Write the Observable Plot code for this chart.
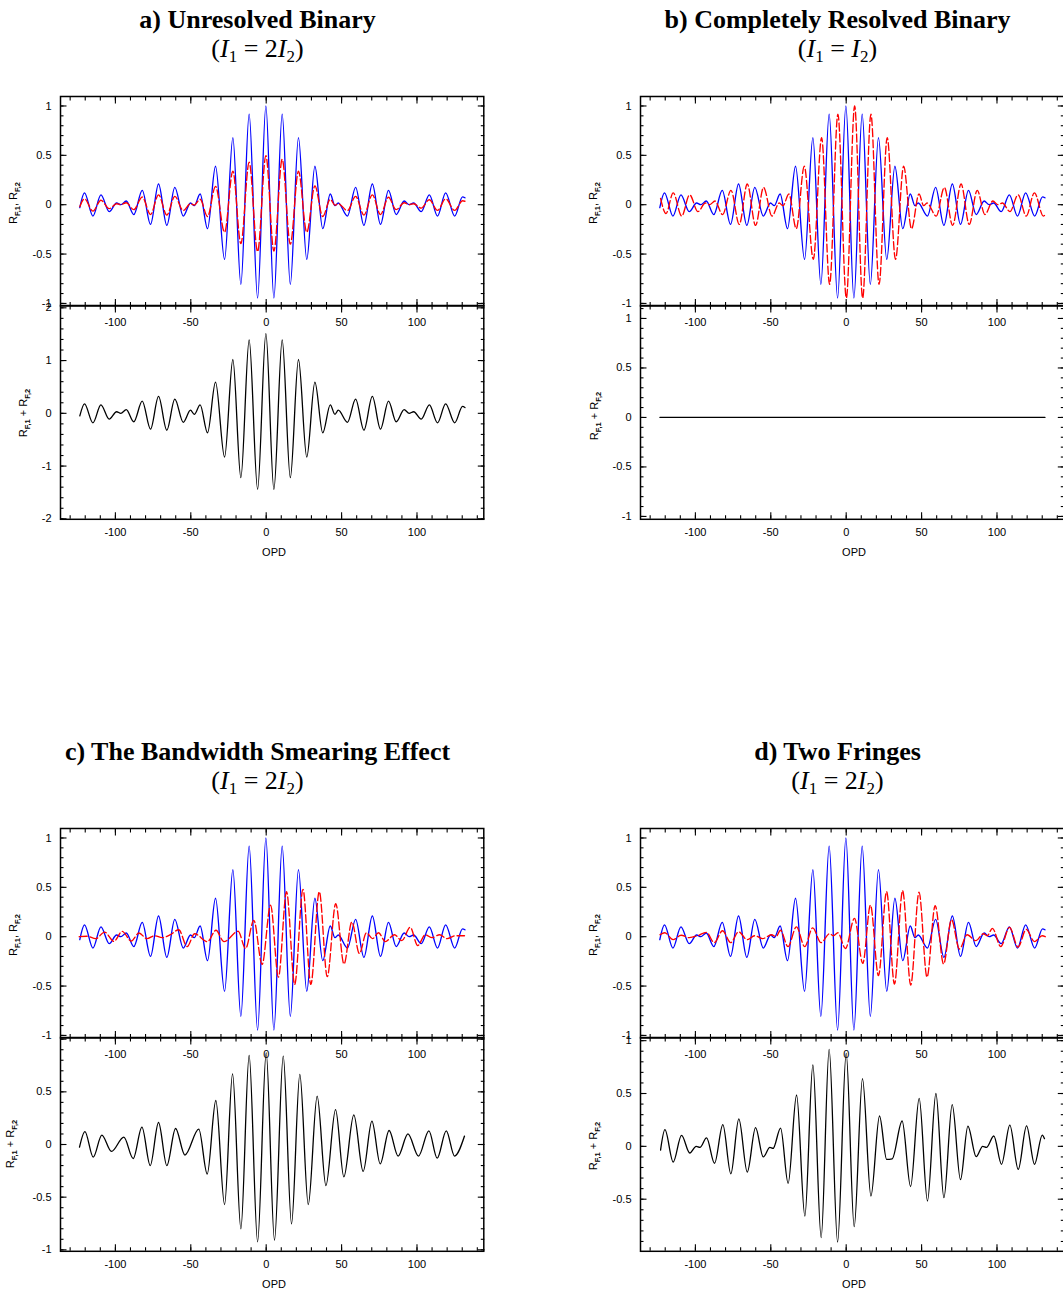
<!DOCTYPE html>
<html><head><meta charset="utf-8">
<script src="https://cdn.jsdelivr.net/npm/d3@7"></script>
<script src="https://cdn.jsdelivr.net/npm/@observablehq/plot@0.6"></script>
<style>
html,body{margin:0;padding:0;background:#fff;}
#page{position:relative;width:1063px;height:1290px;overflow:hidden;background:#fff;}
#page svg{position:absolute;}
</style></head><body><div id="page"></div>
<script>
// ---------- data (OPD, value): fringe extrema ----------
const blueR1 = [[-123.6,-0.03],[-120.5,0.12],[-114.9,-0.115],[-109.6,0.10],[-104.1,-0.07],[-99.2,0.017],[-96.4,0.0],[-92.8,0.037],[-87.8,-0.10],[-82.2,0.145],[-76.7,-0.20],[-71.4,0.21],[-65.9,-0.21],[-60.6,0.175],[-55.0,-0.115],[-50.2,0.017],[-47.7,-0.01],[-43.8,0.108],[-38.9,-0.243],[-33.6,0.389],[-27.6,-0.554],[-22.1,0.679],[-16.8,-0.807],[-11.3,0.916],[-5.7,-0.946],[-0.2,1.0],[5.1,-0.946],[10.6,0.916],[16.0,-0.807],[21.4,0.679],[26.9,-0.554],[32.3,0.389],[37.5,-0.243],[42.5,0.108],[45.6,-0.01],[47.8,0.017],[53.9,-0.115],[59.3,0.175],[64.8,-0.21],[70.4,0.21],[75.8,-0.20],[81.1,0.145],[86.2,-0.10],[91.5,0.037],[94.8,0.0],[97.8,0.017],[102.8,-0.07],[108.2,0.10],[113.6,-0.115],[119.0,0.12],[125.0,-0.115],[130.2,0.08],[131.8,0.07]];

const redA = [[-123.6,-0.02],[-120.5,0.06],[-114.9,-0.065],[-109.6,0.045],[-104.1,-0.04],[-99.2,0.01],[-96.4,0.0],[-92.8,0.02],[-87.8,-0.05],[-82.2,0.078],[-76.7,-0.10],[-71.4,0.10],[-65.9,-0.105],[-60.6,0.085],[-55.0,-0.06],[-50.2,0.01],[-47.7,-0.005],[-43.8,0.055],[-38.9,-0.12],[-33.6,0.186],[-27.6,-0.28],[-22.1,0.34],[-16.8,-0.395],[-11.3,0.43],[-5.7,-0.476],[-0.2,0.497],[5.1,-0.47],[10.6,0.46],[16.0,-0.40],[21.4,0.34],[26.9,-0.28],[32.3,0.19],[37.5,-0.12],[42.5,0.055],[45.6,-0.005],[47.8,0.01],[53.9,-0.06],[59.3,0.085],[64.8,-0.105],[70.4,0.10],[75.8,-0.10],[81.1,0.075],[86.2,-0.05],[91.5,0.02],[94.8,0.0],[97.8,0.01],[102.8,-0.035],[108.2,0.05],[113.6,-0.058],[119.0,0.06],[125.0,-0.058],[130.2,0.04],[131.8,0.035]];

const sumA = [[-123.6,-0.05],[-120.5,0.18],[-114.9,-0.18],[-109.6,0.16],[-104.1,-0.11],[-99.2,0.03],[-96.4,0.0],[-92.8,0.07],[-87.8,-0.16],[-82.2,0.23],[-76.7,-0.30],[-71.4,0.32],[-65.9,-0.32],[-60.6,0.27],[-55.0,-0.17],[-50.2,0.06],[-47.7,-0.02],[-43.8,0.16],[-38.9,-0.37],[-33.6,0.59],[-27.6,-0.83],[-22.1,1.02],[-16.8,-1.22],[-11.3,1.39],[-5.7,-1.44],[-0.2,1.51],[5.1,-1.44],[10.6,1.39],[16.0,-1.22],[21.4,1.02],[26.9,-0.83],[32.3,0.59],[37.5,-0.37],[42.5,0.16],[45.6,-0.02],[47.8,0.06],[53.9,-0.17],[59.3,0.27],[64.8,-0.32],[70.4,0.32],[75.8,-0.30],[81.1,0.23],[86.2,-0.16],[91.5,0.07],[94.8,0.0],[97.8,0.03],[102.8,-0.11],[108.2,0.16],[113.6,-0.18],[119.0,0.18],[125.0,-0.18],[130.2,0.13],[131.8,0.11]];

const redB = [[-123.1,0.064],[-119.5,-0.09],[-114.7,0.12],[-109.1,-0.115],[-103.8,0.10],[-98.3,-0.07],[-93.4,0.017],[-90.6,0.0],[-87.0,0.037],[-82.0,-0.10],[-76.4,0.145],[-70.9,-0.20],[-65.6,0.21],[-60.1,-0.21],[-54.8,0.175],[-49.2,-0.115],[-44.4,0.017],[-41.9,-0.01],[-38.0,0.108],[-33.1,-0.243],[-27.8,0.389],[-21.8,-0.554],[-16.3,0.679],[-11.0,-0.807],[-5.5,0.916],[0.1,-0.946],[5.6,1.0],[10.9,-0.946],[16.4,0.916],[21.8,-0.807],[27.2,0.679],[32.7,-0.554],[38.1,0.389],[43.3,-0.243],[48.3,0.108],[51.4,-0.01],[53.6,0.017],[59.7,-0.115],[65.1,0.175],[70.6,-0.21],[76.2,0.21],[81.6,-0.20],[86.9,0.145],[92.0,-0.10],[97.3,0.037],[100.6,0.0],[103.6,0.017],[108.6,-0.07],[114.0,0.10],[119.4,-0.115],[124.8,0.12],[130.8,-0.115],[131.5,-0.11]];

const sumB = [[-123.5,0],[131.8,0]];

const redC = [[-124,0.0],[-119,0.005],[-113,-0.02],[-107.2,0.047],[-101,-0.047],[-95.5,0.054],[-89.5,-0.044],[-84.4,0.037],[-79,-0.02],[-74,0.01],[-69,-0.01],[-63.5,0.02],[-58,0.07],[-52.4,-0.1],[-47.5,0.03],[-39,-0.05],[-33.3,0.065],[-28,-0.05],[-18.6,0.055],[-13.7,-0.12],[-8.2,0.165],[-2.7,-0.28],[2.9,0.32],[8.1,-0.41],[13.5,0.455],[18.9,-0.483],[24.4,0.48],[29.6,-0.483],[35.2,0.456],[40.5,-0.405],[46.1,0.334],[51.6,-0.277],[56.8,0.15],[61.8,-0.17],[66.5,0.04],[70.5,-0.02],[74.5,0.04],[79,-0.05],[85,0.02],[90,-0.04],[95.5,0.095],[100.5,-0.09],[105.5,0.02],[110,-0.01],[115,0.02],[120,-0.02],[125.5,0.01],[131.5,0.01]];

const sumC = [[-123.8,-0.025],[-120.2,0.123],[-114.7,-0.12],[-109,0.089],[-102.6,-0.066],[-94.4,0.07],[-88.2,-0.133],[-82.4,0.165],[-76.9,-0.2],[-71.4,0.209],[-65.9,-0.2],[-60.1,0.152],[-53.9,-0.10],[-44.7,0.146],[-39.1,-0.28],[-33.4,0.418],[-27.6,-0.57],[-22.3,0.67],[-16.8,-0.80],[-11.3,0.845],[-5.7,-0.924],[0,0.87],[5.5,-0.908],[11.3,0.839],[16.8,-0.753],[22.3,0.665],[27.9,-0.57],[33.8,0.459],[39.6,-0.39],[46.0,0.332],[51.5,-0.307],[58.1,0.282],[64.3,-0.256],[70.1,0.222],[75.6,-0.184],[81.5,0.133],[87.5,-0.11],[94,0.10],[101,-0.11],[107.9,0.13],[113.4,-0.13],[119.4,0.13],[124.9,-0.11],[131.5,0.08]];

const redD = [[-123.5,0.02],[-120.3,0.04],[-114.8,-0.03],[-109.5,0.015],[-104,-0.01],[-98.5,0.01],[-92.7,0.044],[-87.5,-0.06],[-82,0.06],[-76.6,-0.06],[-71.3,0.05],[-65.8,-0.03],[-60.5,0.01],[-55.5,-0.02],[-49.5,0.02],[-46.5,0.0],[-43.6,0.065],[-38.6,-0.1],[-33,0.1],[-27.5,-0.1],[-22.2,0.09],[-16.7,-0.06],[-11,0.03],[-8.5,0.01],[-5.5,0.04],[-0.5,-0.12],[5.5,0.186],[11,-0.27],[16.1,0.32],[21.4,-0.395],[26.8,0.456],[32,-0.48],[37.4,0.466],[42.8,-0.49],[48.3,0.45],[53.6,-0.41],[59,0.314],[64.6,-0.277],[69.8,0.172],[75.1,-0.125],[80.2,0.02],[86,-0.04],[91,0.03],[93.5,0.01],[97,0.085],[102.5,-0.1],[108.3,0.095],[114,-0.105],[119.4,0.075],[124.8,-0.05],[130,0.01],[132,0.0]];

const sumD = [[-123.1,-0.035],[-120.2,0.158],[-114.7,-0.148],[-109.2,0.104],[-103.7,-0.063],[-99.5,0.0],[-97,-0.01],[-92.6,0.08],[-87.3,-0.16],[-81.8,0.205],[-76.5,-0.26],[-71.2,0.26],[-65.6,-0.243],[-60.1,0.177],[-55.0,-0.10],[-50.6,-0.01],[-48.5,-0.02],[-43.5,0.173],[-38.5,-0.35],[-32.9,0.486],[-27.4,-0.66],[-22.1,0.77],[-16.6,-0.864],[-11.3,0.918],[-5.7,-0.905],[0,0.88],[5.3,-0.76],[10.8,0.64],[16.4,-0.47],[22.1,0.287],[26.8,-0.123],[30.5,-0.118],[37.1,0.24],[42.7,-0.38],[48.4,0.454],[53.9,-0.517],[59.5,0.5],[64.8,-0.486],[70.3,0.394],[75.8,-0.315],[80.7,0.192],[86.2,-0.098],[90.5,0.0],[93,-0.01],[97.9,0.098],[103,-0.17],[108.5,0.2],[114.1,-0.218],[119.6,0.193],[124.9,-0.17],[130,0.107],[131.5,0.073]];

// ---------- texts and ticks ----------
const titles = ["a) Unresolved Binary", "b) Completely Resolved Binary", "c) The Bandwidth Smearing Effect", "d) Two Fringes"];
const ratioFactor = ["2", "", "2", "2"];   // (I1 = [factor] I2)
const opdTickLabels = [-100, -50, 0, 50, 100];
const topYLabels = [1, 0.5, 0, -0.5, -1];
const bottomYLabels = [[2, 1, 0, -1, -2], [1, 0.5, 0, -0.5, -1], [0.5, 0, -0.5, -1], [1, 0.5, 0, -0.5]];
const xLabelText = "OPD";

// ---------- layout ----------
const page = document.getElementById("page");
const X0 = [0, 580], Y0 = [0, 732];
const FRAME_L = 60, FRAME_W = 423.3;
const xDomain = [-136.4, 144.3];
const xMinor = d3.range(-130, 141, 10);
const xMajor = [-100, -50, 0, 50, 100];

function sub({left, top, h, yDomain, yMajor, yMinor, yLabels, xPad, lines}) {
  const ml = 60, mr = 40, mt = 12, mb = 48;
  const marks = [];
  for (const l of lines) {
    marks.push(Plot.line(l.data, {x: d => d[0], y: d => d[1], stroke: l.color, strokeWidth: l.w || 1.35,
      strokeDasharray: l.dash, curve: "monotone-x"}));
  }
  marks.push(Plot.frame({stroke: "#000", strokeWidth: 1.5}));
  for (const a of ["top", "bottom"]) {
    marks.push(Plot.axisX(xMinor, {anchor: a, tickSize: -3.5, tickFormat: () => "", label: null, strokeWidth: 1.1}));
    marks.push(Plot.axisX(xMajor, {anchor: a, tickSize: -6.5, tickFormat: () => "", label: null, strokeWidth: 1.1}));
  }
  for (const a of ["left", "right"]) {
    marks.push(Plot.axisY(yMinor, {anchor: a, tickSize: -3.5, tickFormat: () => "", label: null, strokeWidth: 1.1}));
    marks.push(Plot.axisY(yMajor, {anchor: a, tickSize: -6.5, tickFormat: () => "", label: null, strokeWidth: 1.1}));
  }
  marks.push(Plot.axisX(opdTickLabels, {anchor: "bottom", tickSize: 0, tickPadding: xPad, tickFormat: d => String(d), label: null, fontSize: 11}));
  marks.push(Plot.axisY(yLabels, {anchor: "left", tickSize: 0, tickPadding: 9, tickFormat: d => String(d), label: null, fontSize: 11}));
  const svg = Plot.plot({
    width: ml + FRAME_W + mr, height: mt + h + mb,
    marginLeft: ml, marginRight: mr, marginTop: mt, marginBottom: mb,
    x: {domain: xDomain}, y: {domain: yDomain},
    style: {background: "none", overflow: "visible", fontFamily: "'Liberation Sans', Arial, sans-serif", color: "#000"},
    marks
  });
  svg.style.left = (left - ml) + "px";
  svg.style.top = (top - mt) + "px";
  page.appendChild(svg);
}

const topMinor = d3.range(-10, 11).map(i => i / 10);
const panels = [
  {blue: blueR1, red: redA, sum: sumA, bDom: [-2.009, 2.044], bMajor: [-2, -1, 0, 1, 2], bMinor: d3.range(-10, 11).map(i => i / 5)},
  {blue: blueR1, red: redB, sum: sumB, bDom: [-1.029, 1.131], bMajor: [-1, -0.5, 0, 0.5, 1], bMinor: d3.range(-10, 12).map(i => i / 10)},
  {blue: blueR1, red: redC, sum: sumC, bDom: [-1.014, 1.016], bMajor: [-1, -0.5, 0, 0.5, 1], bMinor: d3.range(-10, 11).map(i => i / 10)},
  {blue: blueR1, red: redD, sum: sumD, bDom: [-0.993, 1.03], bMajor: [-0.5, 0, 0.5, 1], bMinor: d3.range(-9, 11).map(i => i / 10)}
];

panels.forEach((p, i) => {
  const ox = X0[i % 2], oy = Y0[Math.floor(i / 2)];
  const left = ox + FRAME_L;
  sub({left, top: oy + 95.5, h: 209.5, yDomain: [-1.026, 1.096], yMajor: [-1, -0.5, 0, 0.5, 1], yMinor: topMinor,
       yLabels: topYLabels, xPad: 12,
       lines: [{data: p.blue, color: "#0000ff"}, {data: p.red, color: "#ff0000", dash: "8,3"}]});
  sub({left, top: oy + 305, h: 213.8, yDomain: p.bDom, yMajor: p.bMajor, yMinor: p.bMinor,
       yLabels: bottomYLabels[i], xPad: 9,
       lines: [{data: p.sum, color: "#000", w: 1.3}]});
});

// ---------- overlay texts ----------
const ov = d3.select(page).append("svg").attr("width", 1063).attr("height", 1290).style("left", "0px").style("top", "0px");
const yLabPos = [
  [[17, 203], [27, 413]],
  [[597, 203], [598, 416]],
  [[17, 935], [14, 1144]],
  [[597, 935], [597, 1146]]
];
function rlabel(x, y, sep) {
  const t = ov.append("text").attr("transform", `translate(${x},${y}) rotate(-90)`)
    .attr("text-anchor", "middle").attr("font-family", "'Liberation Sans', Arial, sans-serif")
    .attr("font-size", 11).attr("fill", "#000");
  t.append("tspan").text("R");
  t.append("tspan").attr("font-size", 7.5).attr("font-weight", "bold").attr("dy", 2.5).text("F,1");
  t.append("tspan").attr("dy", -2.5).text(sep);
  t.append("tspan").text("R");
  t.append("tspan").attr("font-size", 7.5).attr("font-weight", "bold").attr("dy", 2.5).text("F,2");
}
titles.forEach((title, i) => {
  const cx = 257.5 + X0[i % 2], oy = Y0[Math.floor(i / 2)];
  ov.append("text").attr("x", cx).attr("y", oy + 28).attr("text-anchor", "middle")
    .attr("font-family", "'Liberation Serif', 'Times New Roman', serif").attr("font-weight", "bold")
    .attr("font-size", 26).attr("fill", "#000").text(title);
  const s = ov.append("text").attr("x", cx).attr("y", oy + 57).attr("text-anchor", "middle")
    .attr("font-family", "'Liberation Serif', 'Times New Roman', serif").attr("font-size", 26).attr("fill", "#000");
  s.append("tspan").text("(");
  s.append("tspan").attr("font-style", "italic").text("I");
  s.append("tspan").attr("font-size", 17).attr("dy", 5).text("1");
  s.append("tspan").attr("dy", -5).text(" = " + ratioFactor[i]);
  s.append("tspan").attr("font-style", "italic").text("I");
  s.append("tspan").attr("font-size", 17).attr("dy", 5).text("2");
  s.append("tspan").attr("dy", -5).text(")");
  rlabel(yLabPos[i][0][0], yLabPos[i][0][1], ",  ");
  rlabel(yLabPos[i][1][0], yLabPos[i][1][1], " + ");
  ov.append("text").attr("x", X0[i % 2] + 274).attr("y", oy + 556).attr("text-anchor", "middle")
    .attr("font-family", "'Liberation Sans', Arial, sans-serif").attr("font-size", 11).attr("fill", "#000").text(xLabelText);
});
</script></body></html>
